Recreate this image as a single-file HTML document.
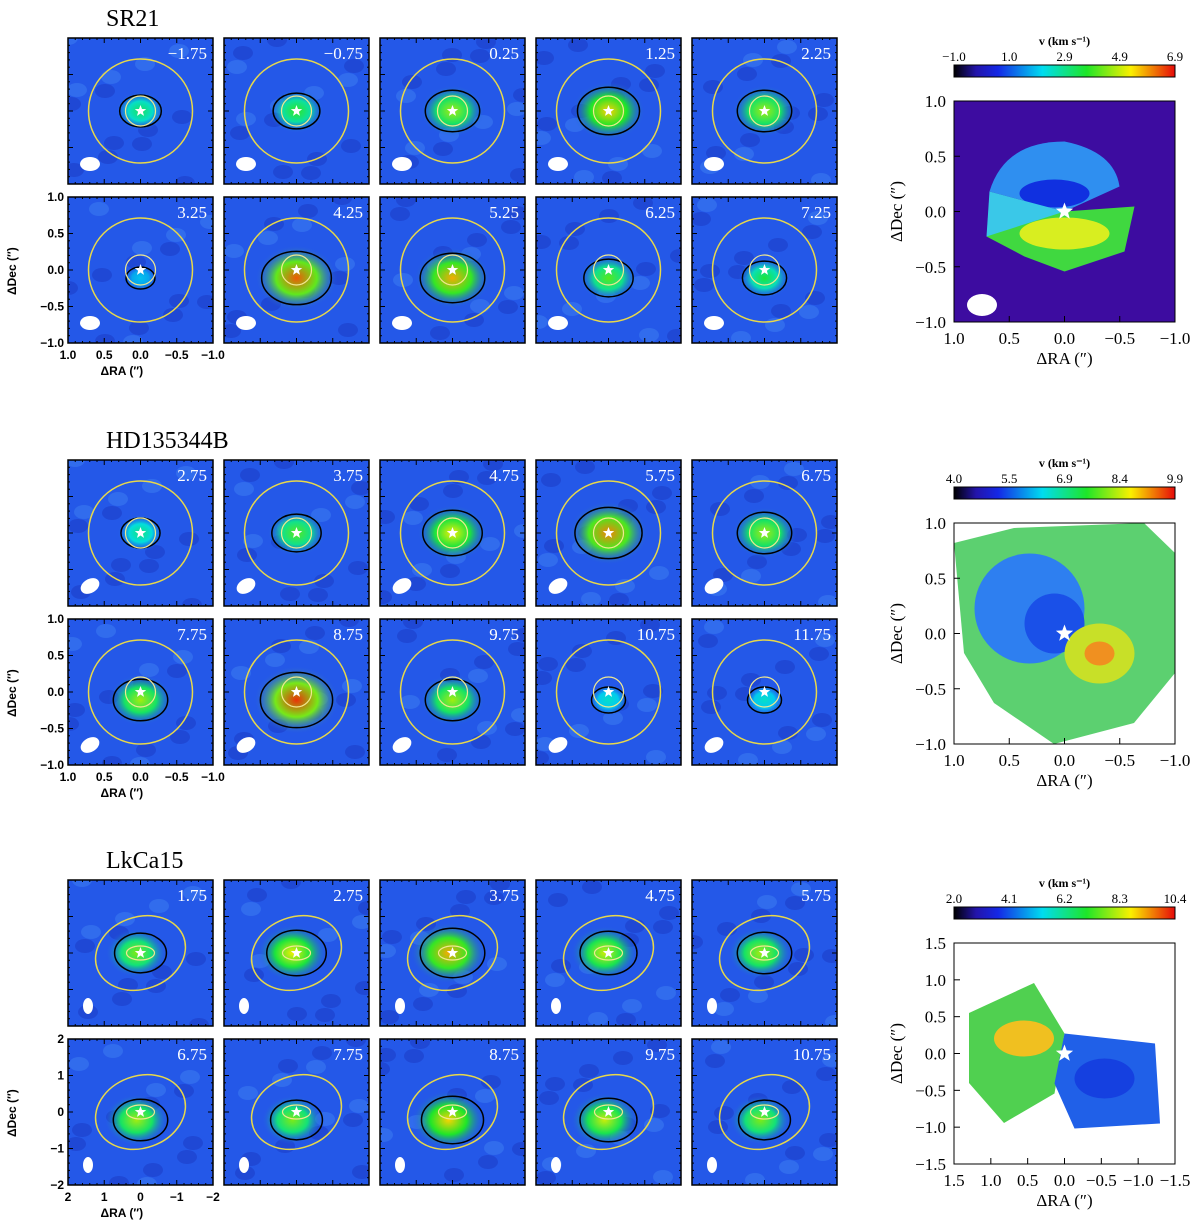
<!DOCTYPE html>
<html><head><meta charset="utf-8"><style>
body{margin:0;background:#fff;width:1200px;height:1232px;overflow:hidden}
svg{display:block}
</style></head><body>
<svg id="fig" width="1200" height="1232" xmlns="http://www.w3.org/2000/svg"></svg>
<script>
const groupNames=["SR21","HD135344B","LkCa15"];
const velSR21=["−1.75","−0.75","0.25","1.25","2.25","3.25","4.25","5.25","6.25","7.25"];
const velHD=["2.75","3.75","4.75","5.75","6.75","7.75","8.75","9.75","10.75","11.75"];
const velLk=["1.75","2.75","3.75","4.75","5.75","6.75","7.75","8.75","9.75","10.75"];
const peakSR21=[0.35,0.45,0.6,0.75,0.6,0.1,0.9,0.8,0.5,0.4];
const peakHD=[0.3,0.5,0.7,0.85,0.6,0.6,0.95,0.6,0.2,0.2];
const peakLk=[0.55,0.7,0.8,0.65,0.6,0.6,0.55,0.75,0.65,0.55];
const cbTicks=[["−1.0","1.0","2.9","4.9","6.9"],["4.0","5.5","6.9","8.4","9.9"],["2.0","4.1","6.2","8.3","10.4"]];
const axTicksSmall=[["1.0","0.5","0.0","−0.5","−1.0"],["1.0","0.5","0.0","−0.5","−1.0"],["2","1","0","−1","−2"]];
const axTicksBig=[["1.0","0.5","0.0","−0.5","−1.0"],["1.0","0.5","0.0","−0.5","−1.0"],["1.5","1.0","0.5","0.0","−0.5","−1.0","−1.5"]];
const vels=[velSR21,velHD,velLk], peaks=[peakSR21,peakHD,peakLk];
const groupY=[38,460,880], panelX0=68, step=156, pw=145, ph=146, rowStep=159;
const svg=document.getElementById('fig'), NS="http://www.w3.org/2000/svg";
function el(t,a,p){const e=document.createElementNS(NS,t);for(const k in a)e.setAttribute(k,a[k]);(p||svg).appendChild(e);return e;}
function jet(t){t=Math.max(0,Math.min(1,t));const s=[[0,[50,0,110]],[0.2,[20,40,230]],[0.4,[0,220,240]],[0.6,[30,230,40]],[0.8,[250,240,0]],[1,[230,10,10]]];
for(let i=1;i<s.length;i++){if(t<=s[i][0]){const a=s[i-1],b=s[i],f=(t-a[0])/(b[0]-a[0]);return `rgb(${a[1].map((v,j)=>Math.round(v+(b[1][j]-v)*f)).join(',')})`;}}return 'rgb(230,10,10)';}
const defs=el('defs',{});
const lin=el('linearGradient',{id:'cbar',x1:0,x2:1,y1:0,y2:0},defs);
for(let i=0;i<=10;i++)el('stop',{offset:i/10,'stop-color':i==0?'#000':jet(i/10)},lin);
function star(cx,cy,r,p){let d='';for(let i=0;i<10;i++){const a=-Math.PI/2+i*Math.PI/5,rr=i%2?r*0.42:r;d+=(i?'L':'M')+(cx+rr*Math.cos(a)).toFixed(1)+' '+(cy+rr*Math.sin(a)).toFixed(1);}
return el('path',{d:d+'Z',fill:'#fff'},p);}
function txt(x,y,s,o,p){const t=el('text',Object.assign({x:x,y:y,'font-family':'Liberation Sans, sans-serif','font-size':12,'font-weight':'bold',fill:'#000'},o||{}),p);t.textContent=s;return t;}
groupNames.forEach((name,g)=>{
  const gy=groupY[g];
  const ttl=txt(panelX0+38,gy-12,name,{'font-family':'Liberation Serif, serif','font-size':24,'font-weight':'normal'});
  
  
  vels[g].forEach((v,i)=>{
    const r=Math.floor(i/5),c=i%5,x=panelX0+c*step,y=gy+r*rowStep;
    const gp=el('g',{});
    
    
    const cid='clip'+g+'_'+i;const cp=el('clipPath',{id:cid},defs);el('rect',{x:x,y:y,width:pw,height:ph},cp);
    const inner=el('g',{'clip-path':`url(#${cid})`},gp);
    el('rect',{x:x,y:y,width:pw,height:ph,fill:'#2458e8'},inner);
    for(let k=0;k<14;k++){const bx=x+((k*37+i*13+g*7)%pw),by=y+((k*53+i*29)%ph);
      el('ellipse',{cx:bx,cy:by,rx:10,ry:7,fill:k%3?'#1d3ec8':'#3a7af0',opacity:0.6},inner);}
    const pk=peaks[g][i],cx=x+pw/2,cy=y+ph/2;
    const gid='rg'+g+'_'+i;const rg=el('radialGradient',{id:gid},defs);
    el('stop',{offset:0,'stop-color':jet(0.3+pk*0.7)},rg);el('stop',{offset:0.5,'stop-color':jet(0.3+pk*0.4)},rg);el('stop',{offset:1,'stop-color':'#2458e8','stop-opacity':0},rg);
    const br=14+pk*30;
    el('ellipse',{cx:cx+(g==2?-4:0),cy:cy+(r?8:0),rx:br,ry:br*0.8,fill:`url(#${gid})`},inner);
    el('ellipse',{cx:cx,cy:cy+(r?8:0),rx:br*0.85,ry:br*0.65,fill:'none',stroke:'#000','stroke-width':1.5},inner);
    if(g==2)el('ellipse',{cx:cx,cy:cy,rx:46,ry:36,fill:'none',stroke:'#e8d84a','stroke-width':1.5,transform:`rotate(-20 ${cx} ${cy})`},inner);
    else el('circle',{cx:cx,cy:cy,r:52,fill:'none',stroke:'#e8d84a','stroke-width':1.5},inner);
    el('ellipse',{cx:cx,cy:cy,rx:g==2?14:15,ry:g==2?7:15,fill:'none',stroke:'#f0e890','stroke-width':1.2},inner);
    star(cx,cy,6,inner);
    el('ellipse',{cx:x+(g==2?20:22),cy:y+ph-20,rx:g==2?5:10,ry:g==2?8:7,fill:'#fff',transform:g==1?`rotate(-30 ${x+22} ${y+ph-20})`:''},inner);
    el('rect',{x:x,y:y,width:pw,height:ph,fill:'none',stroke:'#000','stroke-width':1.5},gp);
    for(let t=1;t<20;t++){el('line',{x1:x+t*pw/20,x2:x+t*pw/20,y1:y,y2:y+(t%5?2:5),stroke:'#000'},gp);el('line',{x1:x+t*pw/20,x2:x+t*pw/20,y1:y+ph,y2:y+ph-(t%5?2:5),stroke:'#000'},gp);
      el('line',{y1:y+t*ph/20,y2:y+t*ph/20,x1:x,x2:x+(t%5?2:5),stroke:'#000'},gp);el('line',{y1:y+t*ph/20,y2:y+t*ph/20,x1:x+pw,x2:x+pw-(t%5?2:5),stroke:'#000'},gp);}
    const vl=txt(x+pw-6,y+21,v,{'font-family':'Liberation Serif, serif','font-size':17,'font-weight':'normal',fill:'#fff','text-anchor':'end'},gp);
    
    
  });
  const ax=panelX0,ay=gy+rowStep;
  axTicksSmall[g].forEach((t,k)=>{
    const n=axTicksSmall[g].length-1;
    const xt=txt(ax+k*pw/n,ay+ph+16,t,{'text-anchor':'middle'});
    
    
    const yt=txt(ax-4,ay+k*ph/n+4,t,{'text-anchor':'end'});
    
    
  });
  const xl=txt(ax+pw/2-40,ay+ph+32,'ΔRA (″)',{});
  
  
  const yl=txt(0,0,'ΔDec (″)',{transform:`translate(16 ${ay+ph/2+25}) rotate(-90)`});
  
  
  const mx=954,mw=221,my=gy+63,cby=gy+27;
  const cbg=el('g',{});
  
  
  el('rect',{x:mx,y:cby,width:mw,height:12,fill:'url(#cbar)',stroke:'#000'},cbg);
  txt(mx+mw/2,cby-20,'v (km s⁻¹)',{'text-anchor':'middle','font-family':'Liberation Serif, serif','font-size':12,'font-weight':'bold'},cbg);
  cbTicks[g].forEach((t,k)=>txt(mx+k*mw/4,cby-4,t,{'text-anchor':'middle','font-family':'Liberation Serif, serif','font-size':13,'font-weight':'normal'},cbg));
  const mg=el('g',{});
  
  
  const mc='mc'+g;const mcp=el('clipPath',{id:mc},defs);el('rect',{x:mx,y:my,width:mw,height:mw},mcp);
  const mi=el('g',{'clip-path':`url(#${mc})`},mg);
  const cx=mx+mw/2,cy=my+mw/2;
  if(g==0){el('rect',{x:mx,y:my,width:mw,height:mw,fill:'#3d0ca0'},mi);
    el('path',{d:`M${cx-75} ${cy-20} Q${cx-60} ${cy-70} ${cx} ${cy-70} Q${cx+50} ${cy-60} ${cx+55} ${cy-25} L${cx} ${cy} Z`,fill:'#2f8ff0'},mi);
    el('ellipse',{cx:cx-10,cy:cy-18,rx:35,ry:14,fill:'#1030e0'},mi);
    el('path',{d:`M${cx-78} ${cy+25} L${cx-60} ${cy-10} L${cx} ${cy} L${cx+70} ${cy-5} L${cx+60} ${cy+40} L${cx} ${cy+60} L${cx-40} ${cy+45} Z`,fill:'#40d840'},mi);
    el('ellipse',{cx:cx,cy:cy+22,rx:45,ry:16,fill:'#d8ee20'},mi);
    el('path',{d:`M${cx-78} ${cy+25} L${cx-75} ${cy-20} L${cx} ${cy} Z`,fill:'#3ac8e8'},mi);
    el('ellipse',{cx:mx+28,cy:my+mw-17,rx:15,ry:11,fill:'#fff'},mi);}
  else if(g==1){el('rect',{x:mx,y:my,width:mw,height:mw,fill:'#fff'},mi);
    el('path',{d:`M${mx} ${my+20} L${mx+60} ${my+5} L${mx+190} ${my} L${mx+mw} ${my+30} L${mx+mw} ${my+150} L${mx+180} ${my+200} L${mx+100} ${my+mw} L${mx+40} ${my+180} L${mx+10} ${my+130} Z`,fill:'#5cd070'},mi);
    el('ellipse',{cx:cx-35,cy:cy-25,rx:55,ry:55,fill:'#2e7ff0'},mi);
    el('ellipse',{cx:cx-10,cy:cy-10,rx:30,ry:30,fill:'#1a50e8'},mi);
    el('ellipse',{cx:cx+35,cy:cy+20,rx:35,ry:30,fill:'#c8e028'},mi);
    el('ellipse',{cx:cx+35,cy:cy+20,rx:15,ry:12,fill:'#f09020'},mi);}
  else {el('rect',{x:mx,y:my,width:mw,height:mw,fill:'#fff'},mi);
    el('path',{d:`M${mx+15} ${my+70} L${mx+80} ${my+40} L${cx} ${cy-20} L${cx-10} ${cy+40} L${mx+50} ${my+180} L${mx+15} ${my+140} Z`,fill:'#50d050'},mi);
    el('ellipse',{cx:mx+70,cy:cy-15,rx:30,ry:18,fill:'#f0c020'},mi);
    el('path',{d:`M${cx} ${cy-20} L${mx+mw-20} ${cy-10} L${mx+mw-15} ${cy+70} L${cx+10} ${cy+75} L${cx-10} ${cy+30} Z`,fill:'#2060e8'},mi);
    el('ellipse',{cx:cx+40,cy:cy+25,rx:30,ry:20,fill:'#1540e0'},mi);}
  star(cx,cy,9,mi);
  el('rect',{x:mx,y:my,width:mw,height:mw,fill:'none',stroke:'#000'},mg);
  const bt=axTicksBig[g],n=bt.length-1;
  bt.forEach((t,k)=>{const p=k*mw/n;
    txt(mx+p,my+mw+22,t,{'text-anchor':'middle','font-family':'Liberation Serif, serif','font-size':17,'font-weight':'normal'},mg);
    txt(mx-8,my+mw-p+6,bt[n-k],{'text-anchor':'end','font-family':'Liberation Serif, serif','font-size':17,'font-weight':'normal'},mg);
    el('line',{x1:mx+p,x2:mx+p,y1:my+mw,y2:my+mw-6,stroke:'#000'},mg);el('line',{x1:mx,x2:mx+6,y1:my+p,y2:my+p,stroke:'#000'},mg);});
  txt(mx+mw/2,my+mw+42,'ΔRA (″)',{'text-anchor':'middle','font-family':'Liberation Serif, serif','font-size':17,'font-weight':'normal'},mg);
  txt(0,0,'ΔDec (″)',{transform:`translate(${mx-52} ${my+mw/2}) rotate(-90)`,'text-anchor':'middle','font-family':'Liberation Serif, serif','font-size':17,'font-weight':'normal'},mg);
});
</script>
</body></html>
